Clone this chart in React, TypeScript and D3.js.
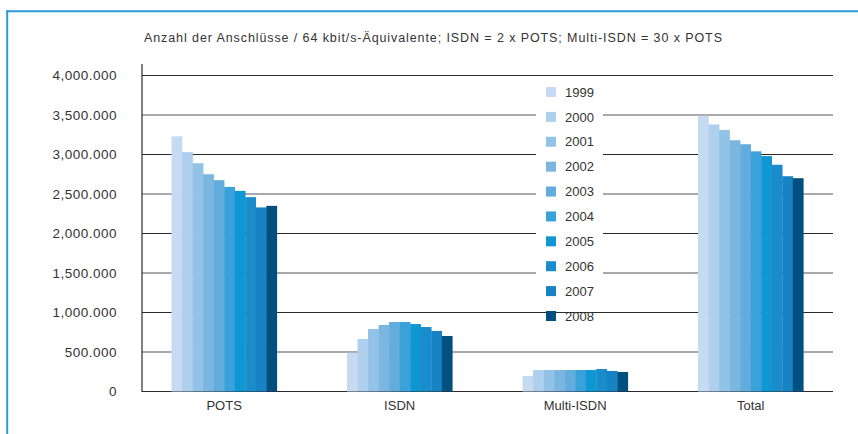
import React from "react";
import * as d3 from "d3";

const categories = ["POTS", "ISDN", "Multi-ISDN", "Total"];
const years = ["1999", "2000", "2001", "2002", "2003", "2004", "2005", "2006", "2007", "2008"];
const potsValues = [3230000, 3030000, 2890000, 2750000, 2675000, 2590000, 2540000, 2460000, 2330000, 2350000];
const isdnValues = [490000, 665000, 791000, 842000, 880000, 880000, 854000, 816000, 766000, 703000];
const multiIsdnValues = [196000, 272000, 272000, 272000, 272000, 272000, 272000, 285000, 260000, 247000];
const totalValues = [3490000, 3380000, 3310000, 3180000, 3130000, 3040000, 2980000, 2870000, 2725000, 2700000];
const seriesByCategory = [potsValues, isdnValues, multiIsdnValues, totalValues];
const tickValues = [0, 500000, 1000000, 1500000, 2000000, 2500000, 3000000, 3500000, 4000000];
const tickLabels = ["0", "500.000", "1,000.000", "1,500.000", "2,000.000", "2,500.000", "3,000.000", "3,500.000", "4,000.000"];
const yearColors = ["#c6dbf2", "#aecfee", "#93c2e7", "#7bb6e1", "#62acde", "#3ba1da", "#0f97d3", "#1a8ccb", "#1783c4", "#02507f"];
const title = "Anzahl der Anschlüsse / 64 kbit/s-Äquivalente; ISDN = 2 x POTS; Multi-ISDN = 30 x POTS";

const W = 858;
const H = 434;
const FONT = "'Liberation Sans', Arial, sans-serif";
const TEXT = "#333333";

export default function App() {
  const y = d3.scaleLinear().domain([0, 4000000]).range([391.5, 75.5]);
  const x0 = d3.scaleBand<string>().domain(categories).range([136.4, 838.4]).paddingInner(0.4).paddingOuter(0.2);
  const x1 = d3.scaleBand<string>().domain(years).range([0, x0.bandwidth()]).padding(0);
  const color = d3.scaleOrdinal<string, string>().domain(years).range(yearColors);
  const axisX0 = 142;
  const axisX1 = 833;
  const legendY = d3.scalePoint<string>().domain(years).range([92, 316]);

  return (
    <svg width={W} height={H} style={{ position: "fixed", left: 0, top: 0, background: "#fff" }} fontFamily={FONT}>
      <rect x={0} y={0} width={W} height={H} fill="#fff" />
      {/* frame */}
      <line x1={7.2} x2={7.2} y1={10.2} y2={H} stroke="#2b99d8" strokeWidth={2} />
      <line x1={6.2} x2={W} y1={11.2} y2={11.2} stroke="#2b99d8" strokeWidth={2} />
      {/* title */}
      <text x={144} y={41.5} fontSize={12.5} fill={TEXT} textLength={578} lengthAdjust="spacing">{title}</text>
      {/* gridlines */}
      {tickValues.map((t, i) => (
        <line
          key={"g" + t}
          x1={axisX0}
          x2={axisX1}
          y1={y(t)}
          y2={y(t)}
          stroke={i % 2 === 0 ? "#2a2a2a" : "#8c8c8c"}
          strokeWidth={i % 2 === 0 ? 1.2 : 1.4}
        />
      ))}
      {/* y tick labels */}
      {tickValues.map((t, i) => (
        <text key={"t" + t} x={117} y={y(t)} dy="0.36em" textAnchor="end" fontSize={13.5} letterSpacing={0.5} fill={TEXT}>
          {tickLabels[i]}
        </text>
      ))}
      {/* y axis line */}
      <line x1={axisX0} x2={axisX0} y1={64} y2={y(0) + 0.6} stroke="#2a2a2a" strokeWidth={1.2} />
      {/* legend background */}
      <rect x={536} y={80} width={67} height={222} fill="#fff" />
      {/* bars */}
      {categories.map((c, ci) => (
        <g key={c} transform={`translate(${x0(c)},0)`}>
          {years.map((yr, yi) => (
            <rect
              key={yr}
              x={x1(yr)}
              y={y(seriesByCategory[ci][yi])}
              width={x1.bandwidth() + 0.3}
              height={y(0) - y(seriesByCategory[ci][yi])}
              fill={color(yr)}
            />
          ))}
        </g>
      ))}
      {/* category labels */}
      {categories.map((c) => (
        <text key={"c" + c} x={(x0(c) ?? 0) + x0.bandwidth() / 2} y={410} textAnchor="middle" fontSize={13} fill={TEXT}>
          {c}
        </text>
      ))}
      {/* legend */}
      {years.map((yr) => (
        <g key={"l" + yr} transform={`translate(0,${legendY(yr)})`}>
          <rect x={546} y={-5} width={10} height={10} fill={color(yr)} />
          <text x={565} y={0} dy="0.36em" fontSize={13} fill={TEXT}>{yr}</text>
        </g>
      ))}
    </svg>
  );
}
